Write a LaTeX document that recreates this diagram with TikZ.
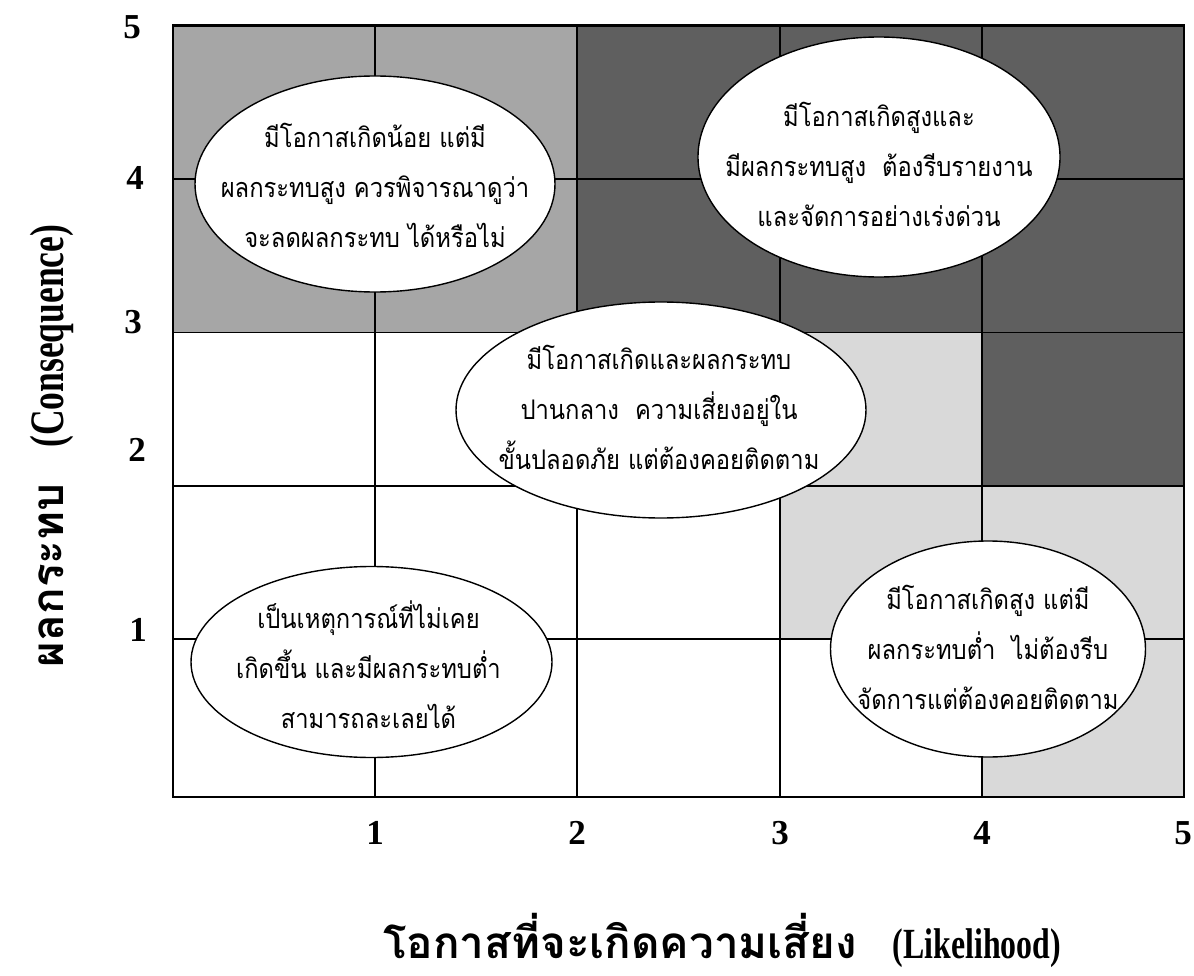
\documentclass[tikz,border=0pt]{standalone}
\usepackage{fontspec}
\setmainfont{Liberation Serif}
\newfontfamily\thaifont[Script=Thai,FakeStretch=0.88]{Loma}
\newfontfamily\thaititle[Script=Thai]{Loma}
\newfontfamily\narrowserif[FakeStretch=0.74]{Liberation Serif}
\usetikzlibrary{shapes.geometric}

\definecolor{cellmid}{HTML}{A6A6A6}
\definecolor{celldark}{HTML}{5F5F5F}
\definecolor{celllight}{HTML}{D9D9D9}

\begin{document}
\begin{tikzpicture}[x=1pt,y=-1pt,
  gridline/.style={line width=1.8pt},
  frameline/.style={line width=2.4pt},
  bubble/.style={ellipse, draw, line width=1.4pt, fill=white, inner sep=0pt},
  bubbletext/.style={align=center, inner sep=0pt,
    font=\thaifont\fontsize{27}{50}\selectfont},
  tick/.style={font=\bfseries\fontsize{35}{36}\selectfont, inner sep=0pt},
  axistitle/.style={inner sep=0pt}]

\useasboundingbox (0,0) rectangle (1194,976);

% shaded risk zones
\fill[cellmid]   (173,25.5) rectangle (577,332.5);
\fill[celldark]  (577,25.5) rectangle (1184,332.5);
\fill[celldark]  (982,332.5) rectangle (1184,486);
\fill[celllight] (780,332.5) rectangle (982,639);
\fill[celllight] (982,486) rectangle (1184,797);

% 5x5 grid
\foreach \gx in {375,577,780,982}
  \draw[gridline] (\gx,25.5) -- (\gx,797);
\foreach \gy in {179,332.5,486,639}
  \draw[gridline] (173,\gy) -- (1184,\gy);
\draw[frameline] (173,25.5) rectangle (1184,797);

% zone outlines
\node[bubble, minimum width=360pt, minimum height=216pt] (lowhigh)  at (375,184)   {};
\node[bubble, minimum width=362pt, minimum height=240pt] (highhigh) at (879,157)   {};
\node[bubble, minimum width=410pt, minimum height=216pt] (medium)   at (661,410)   {};
\node[bubble, minimum width=361pt, minimum height=191pt] (lowlow)   at (371.5,662) {};
\node[bubble, minimum width=315pt, minimum height=216pt] (highlow)  at (988,649)   {};

% zone descriptions
\node[bubbletext] (lowhightext) at ([yshift=-1pt]lowhigh.center)
  {มีโอกาสเกิดน้อย แต่มี\\ผลกระทบสูง ควรพิจารณาดูว่า\\จะลดผลกระทบ ได้หรือไม่};
\node[bubbletext] (highhightext) at ([yshift=-7pt]highhigh.center)
  {มีโอกาสเกิดสูงและ\\มีผลกระทบสูง\ \ ต้องรีบรายงาน\\และจัดการอย่างเร่งด่วน};
\node[bubbletext] (mediumtext) at ([xshift=-2pt,yshift=3pt]medium.center)
  {มีโอกาสเกิดและผลกระทบ\\ปานกลาง\ \ ความเสี่ยงอยู่ใน\\ขั้นปลอดภัย แต่ต้องคอยติดตาม};
\node[bubbletext] (lowlowtext) at ([xshift=-3pt,yshift=-3pt]lowlow.center)
  {เป็นเหตุการณ์ที่ไม่เคย\\เกิดขึ้น และมีผลกระทบต่ำ\\สามารถละเลยได้};
\node[bubbletext] (highlowtext) at ([yshift=2pt]highlow.center)
  {มีโอกาสเกิดสูง แต่มี\\ผลกระทบต่ำ\ \ ไม่ต้องรีบ\\จัดการแต่ต้องคอยติดตาม};

% consequence scale
\node[tick] (c5) at (132,27)  {5};
\node[tick] (c4) at (135,178) {4};
\node[tick] (c3) at (133,322) {3};
\node[tick] (c2) at (137,450) {2};
\node[tick] (c1) at (138,630) {1};

% likelihood scale
\node[tick] (l1) at (375,833)  {1};
\node[tick] (l2) at (577,833)  {2};
\node[tick] (l3) at (780,833)  {3};
\node[tick] (l4) at (982,833)  {4};
\node[tick] (l5) at (1183,833) {5};

% axis titles
\node[axistitle] (xtitle) at (722,940)
  {{\thaititle\bfseries\fontsize{44}{46}\selectfont โอกาสที่จะเกิดความเสี่ยง}\hspace{36pt}{\narrowserif\bfseries\fontsize{43}{46}\selectfont (Likelihood)}};
\node[axistitle, rotate=90] (ytitle) at (52,446)
  {{\thaititle\bfseries\fontsize{44}{46}\selectfont ผลกระทบ}\hspace{36pt}{\narrowserif\bfseries\fontsize{48}{50}\selectfont (Consequence)}};
\end{tikzpicture}
\end{document}
